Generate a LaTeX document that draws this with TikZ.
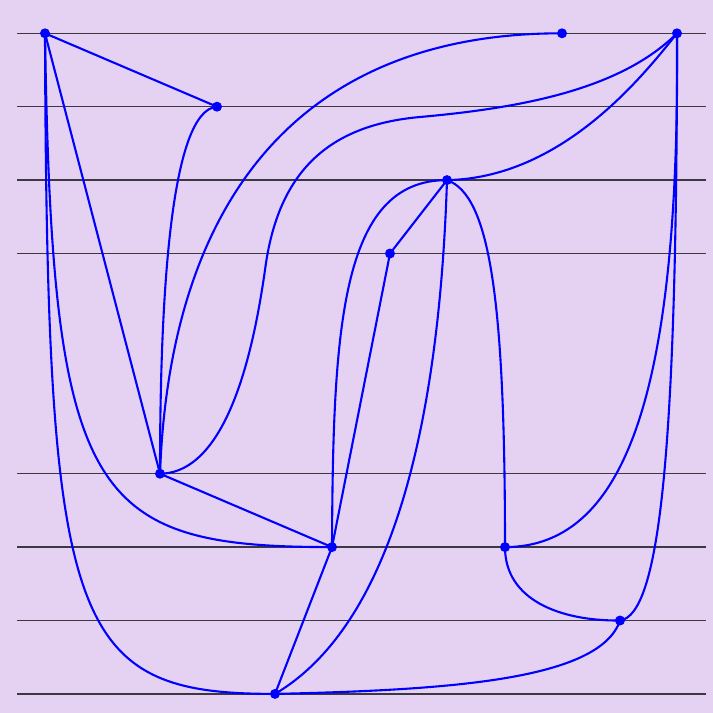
\documentclass[tikz,border=0pt]{standalone}
\definecolor{bgc}{RGB}{229,210,242}
\definecolor{rulec}{RGB}{60,55,65}
\tikzset{
  dot/.style={circle,fill=blue,inner sep=0pt,minimum size=10pt},
  edge/.style={draw=blue,line width=2.1pt},
  layer/.style={draw=rulec,line width=1.3pt}
}
\begin{document}
\begin{tikzpicture}[x=1pt,y=-1pt]
\fill[bgc] (0,0) rectangle (713,713);
\useasboundingbox (0,0) rectangle (713,713);
% layer lines
\foreach \yy in {33.3,106.7,180.1,253.5,473.7,547.1,620.5,693.9}
  \draw[layer] (17,\yy) -- (706,\yy);
% nodes
\node[dot] (A) at (45,33.3) {};
\node[dot] (B) at (217,106.7) {};
\node[dot] (C) at (562,33.3) {};
\node[dot] (D) at (677,33.3) {};
\node[dot] (E) at (447,180.1) {};
\node[dot] (F) at (390,253.5) {};
\node[dot] (G) at (160,473.7) {};
\node[dot] (H) at (332,547.1) {};
\node[dot] (I) at (505,547.1) {};
\node[dot] (J) at (620,620.5) {};
\node[dot] (K) at (275,693.9) {};
% straight edges
\draw[edge] (A.center) -- (B.center);
\draw[edge] (A.center) -- (G.center);
\draw[edge] (G.center) -- (H.center);
\draw[edge] (E.center) -- (F.center);
\draw[edge] (F.center) -- (H.center);
\draw[edge] (H.center) -- (K.center);
% curved edges
\draw[edge] (A.center) .. controls (52,500) and (90,547) .. (H.center);
\draw[edge] (A.center) .. controls (47,630) and (70,694) .. (K.center);
\draw[edge] (B.center) .. controls (170,110) and (160,300) .. (G.center);
\draw[edge] (G.center) .. controls (170,200) and (300,33) .. (C.center);
\draw[edge] (G.center) .. controls (230,473) and (255,340) .. (265,270)
  .. controls (278,170) and (330,125) .. (420,117)
  .. controls (520,108) and (620,90) .. (D.center);
\draw[edge] (E.center) .. controls (340,180) and (333,330) .. (H.center);
\draw[edge] (E.center) .. controls (440,400) and (400,620) .. (K.center);
\draw[edge] (E.center) .. controls (490,195) and (505,300) .. (I.center);
\draw[edge] (E.center) .. controls (560,178) and (640,80) .. (D.center);
\draw[edge] (I.center) .. controls (630,547) and (680,380) .. (D.center);
\draw[edge] (J.center) .. controls (660,615) and (677,450) .. (D.center);
\draw[edge] (I.center) .. controls (505,600) and (560,621) .. (J.center);
\draw[edge] (J.center) .. controls (600,680) and (450,690) .. (K.center);
\end{tikzpicture}
\end{document}
